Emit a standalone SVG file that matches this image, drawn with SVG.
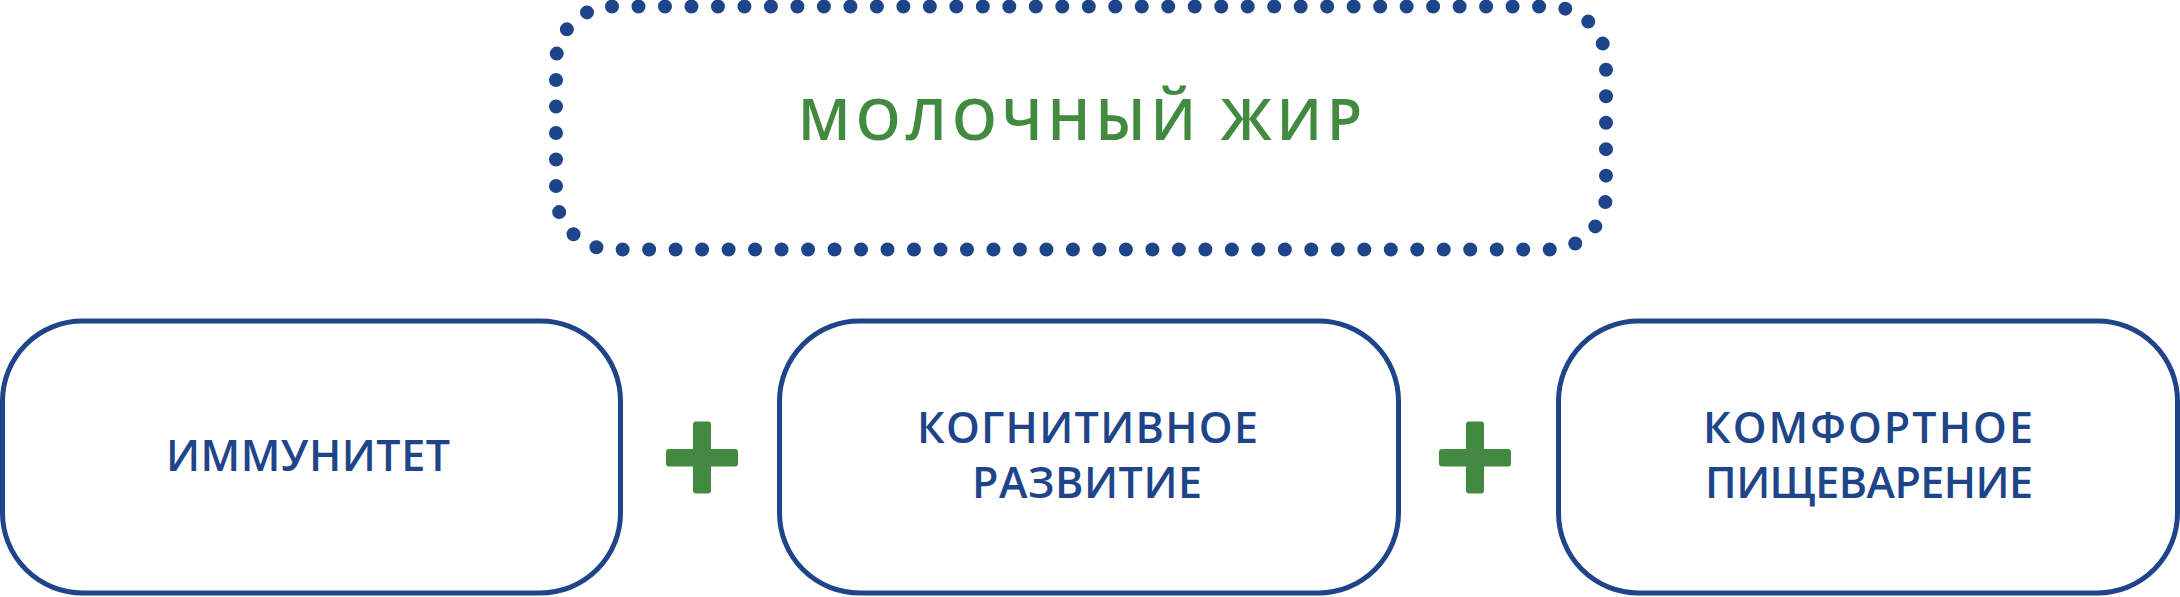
<svg xmlns="http://www.w3.org/2000/svg" width="2180" height="597" viewBox="0 0 2180 597">
  <style>
    .bg { fill: #ffffff; }
    .box { fill: #ffffff; stroke: #1e4589; stroke-width: 5; }
    .dotted { fill: none; stroke: #1e4589; stroke-width: 14; stroke-linecap: round; stroke-dasharray: 0 26.488; }
    .title { font-family: "Open Sans", "Liberation Sans", sans-serif; font-weight: 600; font-size: 57px; fill: #428a3f; }
    .label { font-family: "Open Sans", "Liberation Sans", sans-serif; font-weight: 600; font-size: 43px; fill: #1e4589; }
    .plus { fill: #428a3f; }
  </style>
  <rect class="bg" x="0" y="0" width="2180" height="597"/>

  <g id="node-milk-fat">
    <rect class="dotted" x="556" y="6.5" width="1050" height="243" rx="56" ry="56"/>
    <text class="title" x="798" y="140" textLength="564" lengthAdjust="spacing">МОЛОЧНЫЙ ЖИР</text>
  </g>

  <g id="node-immunity">
    <rect class="box" x="2.5" y="321" width="618" height="272" rx="80" ry="80"/>
    <text class="label" x="166" y="471" textLength="284" lengthAdjust="spacing">ИММУНИТЕТ</text>
  </g>

  <g id="node-cognitive">
    <rect class="box" x="779.5" y="321" width="619" height="272" rx="80" ry="80"/>
    <text class="label" x="917" y="443" textLength="341" lengthAdjust="spacing">КОГНИТИВНОЕ</text>
    <text class="label" x="972" y="498" textLength="230" lengthAdjust="spacing">РАЗВИТИЕ</text>
  </g>

  <g id="node-digestion">
    <rect class="box" x="1558.5" y="321" width="619" height="272" rx="80" ry="80"/>
    <text class="label" x="1703" y="443" textLength="330" lengthAdjust="spacing">КОМФОРТНОЕ</text>
    <text class="label" x="1705" y="498" textLength="328" lengthAdjust="spacing">ПИЩЕВАРЕНИЕ</text>
  </g>

  <g id="plus-1">
    <rect class="plus" x="666" y="449" width="72" height="17.5" rx="3" ry="3"/>
    <rect class="plus" x="693" y="421.5" width="18" height="72" rx="3" ry="3"/>
  </g>

  <g id="plus-2">
    <rect class="plus" x="1439" y="449" width="72" height="17.5" rx="3" ry="3"/>
    <rect class="plus" x="1466" y="421.5" width="18" height="72" rx="3" ry="3"/>
  </g>

  <g id="connectors"></g>
</svg>
